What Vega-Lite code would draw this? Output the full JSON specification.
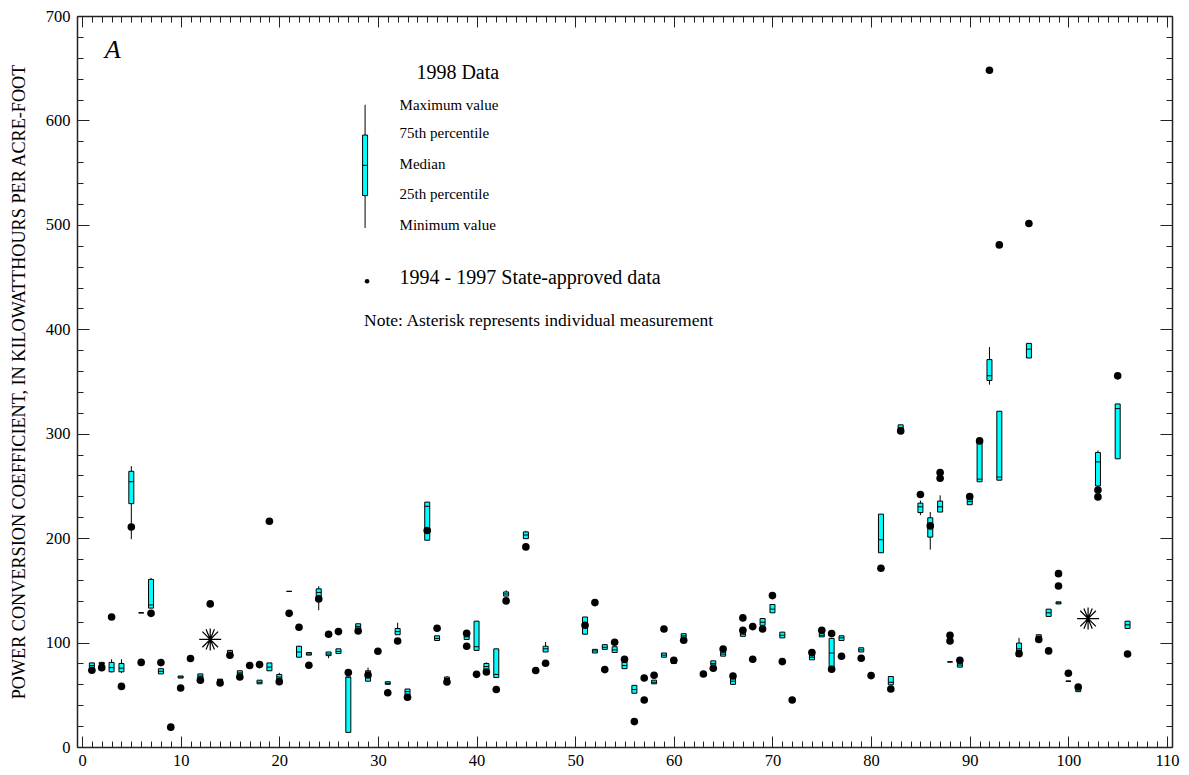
{
  "$schema": "https://vega.github.io/schema/vega-lite/v6.json",
  "width": 1095,
  "height": 731,
  "autosize": "none",
  "padding": {"left": 77, "top": 16, "right": 17, "bottom": 28},
  "background": "white",
  "config": {
    "font": "Liberation Serif",
    "view": {"stroke": null},
    "axis": {
      "grid": false,
      "domainColor": "#222",
      "domainWidth": 1.5,
      "tickColor": "#222",
      "tickWidth": 1,
      "labelColor": "#000",
      "labelFont": "Liberation Serif",
      "labelFontSize": 16.5,
      "titleFont": "Liberation Serif",
      "titleColor": "#000",
      "titleFontWeight": "normal"
    }
  },
  "datasets": {
    "boxes": [
      {"x": 1, "lo": 75, "q1": 76, "med": 78, "q3": 80.5, "hi": 81},
      {"x": 2, "lo": 78.5, "q1": 79, "med": 80, "q3": 81, "hi": 81.5},
      {"x": 3, "lo": 71.5, "q1": 72, "med": 76, "q3": 81, "hi": 84},
      {"x": 4, "lo": 71, "q1": 72, "med": 75.5, "q3": 80, "hi": 84},
      {"x": 5, "lo": 199, "q1": 233, "med": 254, "q3": 264, "hi": 269},
      {"x": 6, "lo": 128.5, "q1": 128.5, "med": 128.5, "q3": 128.5, "hi": 128.5},
      {"x": 7, "lo": 133, "q1": 133, "med": 136, "q3": 160.5, "hi": 162},
      {"x": 8, "lo": 70, "q1": 70, "med": 72.5, "q3": 75, "hi": 75},
      {"x": 10, "lo": 66, "q1": 66, "med": 67, "q3": 68, "hi": 68},
      {"x": 12, "lo": 66, "q1": 66, "med": 68, "q3": 70, "hi": 70},
      {"x": 14, "lo": 63, "q1": 63, "med": 64, "q3": 65, "hi": 65},
      {"x": 15, "lo": 88, "q1": 88.5, "med": 90.5, "q3": 92.5, "hi": 93},
      {"x": 16, "lo": 69.5, "q1": 69.5, "med": 71, "q3": 73, "hi": 73},
      {"x": 18, "lo": 60.5, "q1": 60.5, "med": 62, "q3": 64, "hi": 64},
      {"x": 19, "lo": 73, "q1": 73, "med": 76.5, "q3": 80.5, "hi": 80.5},
      {"x": 20, "lo": 64.5, "q1": 64.5, "med": 67, "q3": 69.5, "hi": 71},
      {"x": 21, "lo": 149, "q1": 149, "med": 149, "q3": 149, "hi": 149},
      {"x": 22, "lo": 86, "q1": 86, "med": 91, "q3": 96.5, "hi": 97},
      {"x": 23, "lo": 88, "q1": 88, "med": 89, "q3": 90.5, "hi": 90.5},
      {"x": 24, "lo": 131, "q1": 144, "med": 148, "q3": 151.5, "hi": 154},
      {"x": 25, "lo": 85, "q1": 87.5, "med": 89, "q3": 91, "hi": 91},
      {"x": 26, "lo": 89.5, "q1": 89.5, "med": 91.5, "q3": 94, "hi": 94},
      {"x": 27, "lo": 14, "q1": 14, "med": 67, "q3": 67, "hi": 67},
      {"x": 28, "lo": 113.5, "q1": 113.5, "med": 115.5, "q3": 118, "hi": 118},
      {"x": 29, "lo": 63, "q1": 63, "med": 69.5, "q3": 73, "hi": 76},
      {"x": 31, "lo": 60, "q1": 60, "med": 61, "q3": 62.5, "hi": 63},
      {"x": 32, "lo": 107.5, "q1": 107.5, "med": 110.5, "q3": 113.5, "hi": 119},
      {"x": 33, "lo": 49.5, "q1": 49.5, "med": 53, "q3": 55.5, "hi": 55.5},
      {"x": 35, "lo": 198, "q1": 198, "med": 230.5, "q3": 234.5, "hi": 234.5},
      {"x": 36, "lo": 102, "q1": 102, "med": 104, "q3": 106.5, "hi": 106.5},
      {"x": 37, "lo": 64, "q1": 64, "med": 65.5, "q3": 67, "hi": 68},
      {"x": 39, "lo": 103, "q1": 103, "med": 105.5, "q3": 107.5, "hi": 107.5},
      {"x": 40, "lo": 92.5, "q1": 92.5, "med": 96, "q3": 120.5, "hi": 120.5},
      {"x": 41, "lo": 73.5, "q1": 73.5, "med": 77, "q3": 80, "hi": 81},
      {"x": 42, "lo": 66.5, "q1": 66.5, "med": 69.5, "q3": 94, "hi": 94},
      {"x": 43, "lo": 144.5, "q1": 144.5, "med": 146.5, "q3": 148.5, "hi": 150},
      {"x": 45, "lo": 199.5, "q1": 199.5, "med": 203, "q3": 206, "hi": 207},
      {"x": 47, "lo": 91, "q1": 91, "med": 94, "q3": 96.5, "hi": 100.5},
      {"x": 51, "lo": 108, "q1": 108, "med": 116, "q3": 124.5, "hi": 124.5},
      {"x": 52, "lo": 90, "q1": 90, "med": 92, "q3": 93.5, "hi": 93.5},
      {"x": 53, "lo": 93.5, "q1": 93.5, "med": 95.5, "q3": 98, "hi": 98},
      {"x": 54, "lo": 90.5, "q1": 90.5, "med": 93, "q3": 96, "hi": 96},
      {"x": 55, "lo": 75, "q1": 75, "med": 78, "q3": 81.5, "hi": 81.5},
      {"x": 56, "lo": 51.5, "q1": 51.5, "med": 55, "q3": 59, "hi": 59},
      {"x": 58, "lo": 60.5, "q1": 60.5, "med": 62, "q3": 64, "hi": 64},
      {"x": 59, "lo": 86, "q1": 86, "med": 88, "q3": 90, "hi": 90},
      {"x": 60, "lo": 80, "q1": 80, "med": 82.5, "q3": 85, "hi": 85},
      {"x": 61, "lo": 105, "q1": 105, "med": 106.5, "q3": 108.5, "hi": 108.5},
      {"x": 64, "lo": 78.5, "q1": 78.5, "med": 80, "q3": 82.5, "hi": 82.5},
      {"x": 65, "lo": 87, "q1": 87, "med": 89, "q3": 91, "hi": 91},
      {"x": 66, "lo": 60, "q1": 60, "med": 63, "q3": 66, "hi": 66},
      {"x": 67, "lo": 106, "q1": 106, "med": 108, "q3": 110, "hi": 110},
      {"x": 69, "lo": 116.5, "q1": 116.5, "med": 119.5, "q3": 123, "hi": 123},
      {"x": 70, "lo": 128.5, "q1": 128.5, "med": 132, "q3": 136.5, "hi": 136.5},
      {"x": 71, "lo": 104.5, "q1": 104.5, "med": 107, "q3": 110, "hi": 110},
      {"x": 74, "lo": 83.5, "q1": 83.5, "med": 86, "q3": 88, "hi": 88},
      {"x": 75, "lo": 105.5, "q1": 105.5, "med": 107, "q3": 109, "hi": 109},
      {"x": 76, "lo": 74.5, "q1": 74.5, "med": 90, "q3": 104, "hi": 104},
      {"x": 77, "lo": 102, "q1": 102, "med": 104.5, "q3": 106.5, "hi": 106.5},
      {"x": 79, "lo": 91, "q1": 91, "med": 93, "q3": 95, "hi": 95},
      {"x": 81, "lo": 186, "q1": 186, "med": 198.5, "q3": 223, "hi": 223},
      {"x": 82, "lo": 59.5, "q1": 59.5, "med": 62, "q3": 67.5, "hi": 67.5},
      {"x": 83, "lo": 304, "q1": 304, "med": 306, "q3": 308.5, "hi": 308.5},
      {"x": 85, "lo": 222, "q1": 224.5, "med": 230, "q3": 233.5, "hi": 236},
      {"x": 86, "lo": 189, "q1": 201, "med": 211.5, "q3": 219.5, "hi": 225},
      {"x": 87, "lo": 225, "q1": 225, "med": 230, "q3": 235.5, "hi": 241},
      {"x": 88, "lo": 81.5, "q1": 81.5, "med": 81.5, "q3": 81.5, "hi": 81.5},
      {"x": 89, "lo": 76.5, "q1": 76.5, "med": 78.5, "q3": 80.5, "hi": 80.5},
      {"x": 90, "lo": 232, "q1": 232, "med": 235, "q3": 238, "hi": 238},
      {"x": 91, "lo": 254, "q1": 254, "med": 256.5, "q3": 291, "hi": 291},
      {"x": 92, "lo": 347, "q1": 351, "med": 355.5, "q3": 371, "hi": 383},
      {"x": 93, "lo": 255.5, "q1": 255.5, "med": 258.5, "q3": 321.5, "hi": 321.5},
      {"x": 95, "lo": 89.5, "q1": 89.5, "med": 94, "q3": 99.5, "hi": 104.5},
      {"x": 96, "lo": 372.5, "q1": 372.5, "med": 381, "q3": 386.5, "hi": 386.5},
      {"x": 97, "lo": 104.5, "q1": 104.5, "med": 106, "q3": 107.5, "hi": 107.5},
      {"x": 98, "lo": 125, "q1": 125, "med": 128.5, "q3": 132, "hi": 132},
      {"x": 99, "lo": 137, "q1": 137, "med": 138, "q3": 139, "hi": 139},
      {"x": 100, "lo": 63, "q1": 63, "med": 63, "q3": 63, "hi": 63},
      {"x": 101, "lo": 53, "q1": 53, "med": 55, "q3": 57.5, "hi": 57.5},
      {"x": 103, "lo": 249, "q1": 250, "med": 273, "q3": 282, "hi": 284},
      {"x": 105, "lo": 276, "q1": 276, "med": 324, "q3": 328.5, "hi": 328.5},
      {"x": 106, "lo": 113.5, "q1": 113.5, "med": 117, "q3": 120.5, "hi": 120.5}
    ],
    "dots": [
      {"x": 1, "v": 73.5}, {"x": 2, "v": 76}, {"x": 3, "v": 124.5}, {"x": 4, "v": 58},
      {"x": 5, "v": 210.7}, {"x": 6, "v": 81}, {"x": 7, "v": 128}, {"x": 8, "v": 80.8},
      {"x": 9, "v": 19}, {"x": 10, "v": 56.5}, {"x": 11, "v": 84.7}, {"x": 12, "v": 64},
      {"x": 13, "v": 137}, {"x": 14, "v": 61.3}, {"x": 15, "v": 87.8}, {"x": 16, "v": 67},
      {"x": 17, "v": 78}, {"x": 18, "v": 78.9}, {"x": 19, "v": 216.2}, {"x": 20, "v": 62.6},
      {"x": 21, "v": 128}, {"x": 22, "v": 114.7}, {"x": 23, "v": 78.3}, {"x": 24, "v": 141.8},
      {"x": 25, "v": 108}, {"x": 26, "v": 110.5}, {"x": 27, "v": 71.3}, {"x": 28, "v": 111.1},
      {"x": 29, "v": 69}, {"x": 30, "v": 91.7}, {"x": 31, "v": 52}, {"x": 32, "v": 101.5},
      {"x": 33, "v": 47.6}, {"x": 35, "v": 207.3}, {"x": 36, "v": 113.7}, {"x": 37, "v": 62.3},
      {"x": 39, "v": 108.9}, {"x": 39, "v": 96.5}, {"x": 40, "v": 69.6}, {"x": 41, "v": 71.8},
      {"x": 42, "v": 55}, {"x": 43, "v": 139.9}, {"x": 45, "v": 191.6}, {"x": 46, "v": 73.2},
      {"x": 47, "v": 80.2}, {"x": 51, "v": 116.6}, {"x": 52, "v": 138.3}, {"x": 53, "v": 74.1},
      {"x": 54, "v": 100.3}, {"x": 55, "v": 84}, {"x": 56, "v": 24.3}, {"x": 57, "v": 66.1},
      {"x": 57, "v": 45}, {"x": 58, "v": 68.7}, {"x": 59, "v": 113}, {"x": 60, "v": 83},
      {"x": 61, "v": 102.2}, {"x": 63, "v": 69.9}, {"x": 64, "v": 75.4}, {"x": 65, "v": 93.9},
      {"x": 66, "v": 68}, {"x": 67, "v": 123.6}, {"x": 67, "v": 111.8}, {"x": 68, "v": 115.3},
      {"x": 68, "v": 84}, {"x": 69, "v": 113}, {"x": 70, "v": 145}, {"x": 71, "v": 81.8},
      {"x": 72, "v": 45}, {"x": 74, "v": 90.4}, {"x": 75, "v": 111.8}, {"x": 76, "v": 108.6},
      {"x": 76, "v": 74.4}, {"x": 77, "v": 86.9}, {"x": 79, "v": 85}, {"x": 80, "v": 68.4},
      {"x": 81, "v": 171.2}, {"x": 82, "v": 55.6}, {"x": 83, "v": 302.7}, {"x": 85, "v": 241.8},
      {"x": 86, "v": 211.7}, {"x": 87, "v": 262.8}, {"x": 87, "v": 257.4}, {"x": 88, "v": 107},
      {"x": 88, "v": 101.5}, {"x": 89, "v": 83}, {"x": 90, "v": 239.8}, {"x": 91, "v": 293.1},
      {"x": 92, "v": 648}, {"x": 93, "v": 480.8}, {"x": 95, "v": 89.4}, {"x": 96, "v": 501.3},
      {"x": 97, "v": 102.9}, {"x": 98, "v": 92}, {"x": 99, "v": 166}, {"x": 99, "v": 154.2},
      {"x": 100, "v": 70.6}, {"x": 101, "v": 57.5}, {"x": 103, "v": 246}, {"x": 103, "v": 239.5},
      {"x": 105, "v": 355.4}, {"x": 106, "v": 89.1}
    ],
    "stars": [
      {"x": 13, "v": 103},
      {"x": 102, "v": 123}
    ],
    "key": [
      {"x": 28.7, "lo": 497, "q1": 528, "med": 557, "q3": 586, "hi": 615}
    ],
    "keyDot": [
      {"x": 28.9, "v": 446}
    ],
    "keyLabels": [
      {"x": 32.2, "v": 614.6, "label": "Maximum value"},
      {"x": 32.2, "v": 587.7, "label": "75th percentile"},
      {"x": 32.2, "v": 558, "label": "Median"},
      {"x": 32.2, "v": 529.3, "label": "25th percentile"},
      {"x": 32.2, "v": 499.7, "label": "Minimum value"}
    ],
    "headings": [
      {"x": 33.9, "v": 645.3, "label": "1998 Data"},
      {"x": 32.2, "v": 448.9, "label": "1994 - 1997 State-approved data"}
    ],
    "note": [
      {"x": 28.6, "v": 408, "label": "Note: Asterisk represents individual measurement"}
    ],
    "panel": [
      {"x": 2.3, "v": 667, "label": "A"}
    ]
  },
  "resolve": {"axis": {"x": "independent", "y": "independent"}},
  "layer": [
    {
      "data": {"name": "boxes"},
      "mark": {"type": "rule", "color": "#000", "strokeWidth": 1},
      "encoding": {
        "x": {
          "field": "x", "type": "quantitative",
          "scale": {"domain": [0, 110], "nice": false, "zero": false},
          "axis": {"orient": "bottom", "values": [0, 10, 20, 30, 40, 50, 60, 70, 80, 90, 100, 110], "ticks": false, "labelFlush": false, "labelPadding": 5, "domain": true, "title": null}
        },
        "y": {
          "field": "lo", "type": "quantitative",
          "scale": {"domain": [0, 700], "nice": false, "zero": true},
          "axis": {"orient": "left", "values": [0, 100, 200, 300, 400, 500, 600, 700], "ticks": false, "labelFlush": false, "labelPadding": 7, "domain": true,
            "title": "POWER CONVERSION COEFFICIENT, IN KILOWATTHOURS PER ACRE-FOOT", "titleFontSize": 18.2, "titlePadding": 17}
        },
        "y2": {"field": "hi"}
      }
    },
    {
      "data": {"name": "boxes"},
      "mark": {"type": "bar", "width": 5, "fill": "#00ffff", "stroke": "#000", "strokeWidth": 1},
      "encoding": {
        "x": {"field": "x", "type": "quantitative",
          "axis": {"orient": "bottom", "values": [0, 10, 20, 30, 40, 50, 60, 70, 80, 90, 100, 110], "tickSize": -11, "labels": false, "domain": false, "title": null}},
        "y": {"field": "q1", "type": "quantitative",
          "axis": {"orient": "left", "values": [0, 100, 200, 300, 400, 500, 600, 700], "tickSize": -12, "labels": false, "domain": false, "title": null}},
        "y2": {"field": "q3"}
      }
    },
    {
      "data": {"name": "boxes"},
      "mark": {"type": "point", "shape": "M-1,0L1,0", "size": 25, "filled": false, "stroke": "#000", "strokeWidth": 1, "opacity": 1},
      "encoding": {
        "x": {"field": "x", "type": "quantitative",
          "axis": {"orient": "bottom", "values": [0,1,2,3,4,5,6,7,8,9,10,11,12,13,14,15,16,17,18,19,20,21,22,23,24,25,26,27,28,29,30,31,32,33,34,35,36,37,38,39,40,41,42,43,44,45,46,47,48,49,50,51,52,53,54,55,56,57,58,59,60,61,62,63,64,65,66,67,68,69,70,71,72,73,74,75,76,77,78,79,80,81,82,83,84,85,86,87,88,89,90,91,92,93,94,95,96,97,98,99,100,101,102,103,104,105,106,107,108,109,110], "tickSize": -6, "labels": false, "domain": false, "title": null}},
        "y": {"field": "med", "type": "quantitative",
          "axis": {"orient": "left", "values": [0,20,40,60,80,100,120,140,160,180,200,220,240,260,280,300,320,340,360,380,400,420,440,460,480,500,520,540,560,580,600,620,640,660,680,700], "tickSize": -6, "labels": false, "domain": false, "title": null}}
      }
    },
    {
      "data": {"name": "dots"},
      "mark": {"type": "point", "shape": "circle", "filled": true, "size": 58, "color": "#000", "opacity": 1},
      "encoding": {
        "x": {"field": "x", "type": "quantitative",
          "axis": {"orient": "top", "values": [0, 10, 20, 30, 40, 50, 60, 70, 80, 90, 100, 110], "tickSize": -11, "labels": false, "domain": true, "title": null}},
        "y": {"field": "v", "type": "quantitative",
          "axis": {"orient": "right", "values": [0, 100, 200, 300, 400, 500, 600, 700], "tickSize": -12, "labels": false, "domain": true, "title": null}}
      }
    },
    {
      "data": {"name": "stars"},
      "mark": {"type": "point", "shape": "M-1,0L1,0M0,-1L0,1M-0.71,-0.71L0.71,0.71M-0.71,0.71L0.71,-0.71M-0.38,-0.92L0.38,0.92M0.38,-0.92L-0.38,0.92", "size": 484, "filled": false, "stroke": "#000", "strokeWidth": 1.2, "opacity": 1},
      "encoding": {
        "x": {"field": "x", "type": "quantitative",
          "axis": {"orient": "top", "values": [0,1,2,3,4,5,6,7,8,9,10,11,12,13,14,15,16,17,18,19,20,21,22,23,24,25,26,27,28,29,30,31,32,33,34,35,36,37,38,39,40,41,42,43,44,45,46,47,48,49,50,51,52,53,54,55,56,57,58,59,60,61,62,63,64,65,66,67,68,69,70,71,72,73,74,75,76,77,78,79,80,81,82,83,84,85,86,87,88,89,90,91,92,93,94,95,96,97,98,99,100,101,102,103,104,105,106,107,108,109,110], "tickSize": -6, "labels": false, "domain": false, "title": null}},
        "y": {"field": "v", "type": "quantitative",
          "axis": {"orient": "right", "values": [0,20,40,60,80,100,120,140,160,180,200,220,240,260,280,300,320,340,360,380,400,420,440,460,480,500,520,540,560,580,600,620,640,660,680,700], "tickSize": -6, "labels": false, "domain": false, "title": null}}
      }
    },
    {
      "data": {"name": "key"},
      "mark": {"type": "rule", "color": "#000", "strokeWidth": 1},
      "encoding": {
        "x": {"field": "x", "type": "quantitative", "axis": null},
        "y": {"field": "lo", "type": "quantitative", "axis": null},
        "y2": {"field": "hi"}
      }
    },
    {
      "data": {"name": "key"},
      "mark": {"type": "bar", "width": 5, "fill": "#00ffff", "stroke": "#000", "strokeWidth": 1},
      "encoding": {
        "x": {"field": "x", "type": "quantitative", "axis": null},
        "y": {"field": "q1", "type": "quantitative", "axis": null},
        "y2": {"field": "q3"}
      }
    },
    {
      "data": {"name": "key"},
      "mark": {"type": "point", "shape": "M-1,0L1,0", "size": 25, "filled": false, "stroke": "#000", "strokeWidth": 1, "opacity": 1},
      "encoding": {
        "x": {"field": "x", "type": "quantitative", "axis": null},
        "y": {"field": "med", "type": "quantitative", "axis": null}
      }
    },
    {
      "data": {"name": "keyDot"},
      "mark": {"type": "point", "shape": "circle", "filled": true, "size": 22, "color": "#000", "opacity": 1},
      "encoding": {
        "x": {"field": "x", "type": "quantitative", "axis": null},
        "y": {"field": "v", "type": "quantitative", "axis": null}
      }
    },
    {
      "data": {"name": "keyLabels"},
      "mark": {"type": "text", "align": "left", "baseline": "middle", "font": "Liberation Serif", "fontSize": 15, "color": "#000"},
      "encoding": {
        "x": {"field": "x", "type": "quantitative", "axis": null},
        "y": {"field": "v", "type": "quantitative", "axis": null},
        "text": {"field": "label"}
      }
    },
    {
      "data": {"name": "headings"},
      "mark": {"type": "text", "align": "left", "baseline": "middle", "font": "Liberation Serif", "fontSize": 20, "color": "#000"},
      "encoding": {
        "x": {"field": "x", "type": "quantitative", "axis": null},
        "y": {"field": "v", "type": "quantitative", "axis": null},
        "text": {"field": "label"}
      }
    },
    {
      "data": {"name": "note"},
      "mark": {"type": "text", "align": "left", "baseline": "middle", "font": "Liberation Serif", "fontSize": 17.5, "color": "#000"},
      "encoding": {
        "x": {"field": "x", "type": "quantitative", "axis": null},
        "y": {"field": "v", "type": "quantitative", "axis": null},
        "text": {"field": "label"}
      }
    },
    {
      "data": {"name": "panel"},
      "mark": {"type": "text", "align": "left", "baseline": "middle", "font": "Liberation Serif", "fontSize": 26, "fontStyle": "italic", "color": "#000"},
      "encoding": {
        "x": {"field": "x", "type": "quantitative", "axis": null},
        "y": {"field": "v", "type": "quantitative", "axis": null},
        "text": {"field": "label"}
      }
    }
  ]
}
